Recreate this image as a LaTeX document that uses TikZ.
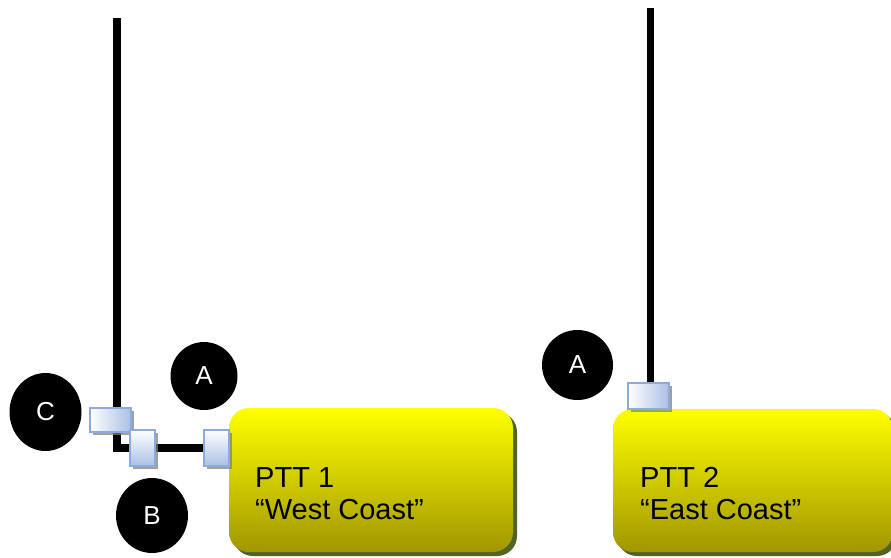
\documentclass[tikz,border=0pt]{standalone}
\usepackage{fontspec}
\setmainfont{Liberation Sans}
\usetikzlibrary{shapes.geometric,shadows,backgrounds}
\definecolor{sqborder}{RGB}{140,170,220}
\definecolor{sqblue}{RGB}{170,192,228}
\definecolor{boxtop}{RGB}{255,255,0}
\definecolor{boxbot}{RGB}{160,150,0}
\definecolor{boxshadow}{RGB}{80,100,40}
\tikzset{
  wire/.style={line width=7.5pt, black},
  badge/.style={ellipse, fill=black, text=white, inner sep=0pt, font=\fontsize{26}{30}\selectfont},
  porth/.style={rectangle, draw=sqborder, line width=1.8pt, inner sep=0pt, left color=white, right color=sqblue,
    drop shadow={shadow xshift=3pt, shadow yshift=-3pt, fill=gray, opacity=0.75}},
  portv/.style={rectangle, draw=sqborder, line width=1.8pt, inner sep=0pt, top color=white, bottom color=sqblue,
    drop shadow={shadow xshift=3pt, shadow yshift=-3pt, fill=gray, opacity=0.75}},
  ptt/.style={rectangle, rounded corners=20pt, top color=boxtop, bottom color=boxbot, inner sep=0pt,
    drop shadow={shadow xshift=4pt, shadow yshift=-4pt, fill=boxshadow, opacity=1}},
  ptttext/.style={anchor=base west, align=left, inner sep=0pt, font=\fontsize{29}{32}\selectfont}
}
\begin{document}
\begin{tikzpicture}[x=1pt,y=-1pt]
\useasboundingbox (0,0) rectangle (891,557);
\begin{scope}
\clip (0,0) rectangle (891,557);
% boxes
\node[ptt, minimum width=284pt, minimum height=144pt] (box1) at (371,480) {};
\node[ptt, minimum width=280pt, minimum height=143pt] (box2) at (753,480.5) {};
\end{scope}
\node[ptttext] (t1) at (255,519) {PTT 1\\“West Coast”};
\node[ptttext] (t2) at (640,519) {PTT 2\\“East Coast”};
% ports
\node[porth, minimum width=41pt, minimum height=24pt] (pC) at (110.5,420) {};
\node[portv, minimum width=25pt, minimum height=36pt] (pB) at (142.5,448) {};
\node[portv, minimum width=25pt, minimum height=36pt] (pA1) at (216.5,448) {};
\node[porth, minimum width=41pt, minimum height=26pt] (pA2) at (648.5,396) {};
% wires
\coordinate (top1) at (117,18);
\coordinate (top2) at (650.5,8);
\begin{scope}[on background layer]
\draw[wire] (top1) |- (pA1.west);
\draw[wire] (top2) -- (top2 |- pA2.north);
\end{scope}
% badges
\node[badge, minimum width=67pt, minimum height=68pt] (bA1) at (204,376) {A};
\node[badge, minimum width=72pt, minimum height=78pt] (bC) at (45.5,412) {C};
\node[badge, minimum width=72pt, minimum height=75pt] (bB) at (152,515.5) {B};
\node[badge, minimum width=71pt, minimum height=70pt] (bA2) at (577.5,365) {A};
\end{tikzpicture}
\end{document}
